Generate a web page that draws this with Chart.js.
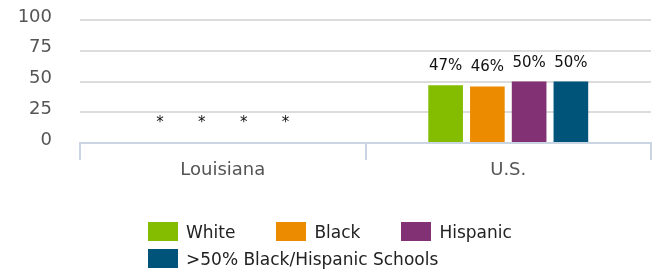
<!DOCTYPE html>
<html>
<head>
<meta charset="utf-8">
<script src="https://cdn.jsdelivr.net/npm/chart.js@4/dist/chart.umd.min.js"></script>
<style>
  html, body { margin: 0; padding: 0; background: #fff; }
  #wrap { position: relative; width: 657px; height: 269px; }
  #legend { position: absolute; left: 148px; top: 222px; width: 380px; display: flex; flex-wrap: wrap; column-gap: 41px; row-gap: 8px; font-family: "DejaVu Sans", sans-serif; font-size: 17px; color: #222; }
  .item { display: flex; align-items: center; height: 19px; white-space: nowrap; }
  .box { width: 30px; height: 19px; margin-right: 8px; }
</style>
</head>
<body>
<div id="wrap">
  <canvas id="c" width="657" height="269"></canvas>
  <div id="legend"></div>
</div>
<script>
const categories = ["Louisiana", "U.S."];
const seriesNames = ["White", "Black", "Hispanic", ">50% Black/Hispanic Schools"];
const seriesColors = ["#84bd00", "#ed8b00", "#823174", "#00547a"];
const white = [null, 47];
const black = [null, 46];
const hispanic = [null, 50];
const majorityBH = [null, 50];
const yTicks = [0, 25, 50, 75, 100];

const seriesValues = [white, black, hispanic, majorityBH];

const valueLabels = {
  id: 'valueLabels',
  afterDatasetsDraw(chart) {
    const ctx = chart.ctx;
    const yScale = chart.scales.y;
    ctx.save();
    ctx.font = '15px "DejaVu Sans", sans-serif';
    ctx.fillStyle = '#111';
    ctx.textAlign = 'center';
    ctx.textBaseline = 'alphabetic';
    chart.data.datasets.forEach((ds, di) => {
      const meta = chart.getDatasetMeta(di);
      meta.data.forEach((el, i) => {
        const v = ds.data[i];
        const x = el.x;
        const y = (v === null || v === undefined) ? yScale.getPixelForValue(0) : yScale.getPixelForValue(v);
        const txt = (v === null || v === undefined) ? '*' : Math.round(v) + '%';
        const off = (v === null || v === undefined) ? 16 : 15;
        ctx.fillText(txt, x, y - off);
      });
    });
    ctx.restore();
  }
};

const chart = new Chart(document.getElementById('c'), {
  type: 'bar',
  data: {
    labels: categories,
    datasets: seriesNames.map((n, i) => ({
      label: n,
      data: seriesValues[i],
      backgroundColor: seriesColors[i],
      borderWidth: 0,
      categoryPercentage: 0.585,
      barPercentage: 0.83
    }))
  },
  options: {
    responsive: false,
    animation: false,
    layout: { padding: { left: 0, right: 6, top: 20, bottom: 0 } },
    plugins: {
      legend: { display: false },
      tooltip: { enabled: false }
    },
    scales: {
      x: {
        offset: true,
        grid: { display: true, drawOnChartArea: false, drawTicks: true, tickLength: 17, color: '#c9d5e2', lineWidth: 2, offset: true },
        border: { display: true, color: '#c9d5e2', width: 2 },
        ticks: { color: '#555', font: { family: 'DejaVu Sans', size: 18 }, padding: 0 },
        afterFit(s) { s.height = 126; }
      },
      y: {
        min: 0, max: 100,
        afterBuildTicks(s) { s.ticks = yTicks.map(v => ({ value: v })); },
        grid: { color: '#dcdcdc', lineWidth: 2, drawTicks: false },
        border: { display: false },
        ticks: { color: '#555', font: { family: 'DejaVu Sans', size: 18 }, padding: 28, labelOffset: -3 },
        afterFit(s) { s.width = 80; s.paddingTop = 0; s.paddingBottom = 0; }
      }
    }
  },
  plugins: [valueLabels]
});

const legendEl = document.getElementById('legend');
seriesNames.forEach((n, i) => {
  const item = document.createElement('div');
  item.className = 'item';
  const box = document.createElement('span');
  box.className = 'box';
  box.style.background = seriesColors[i];
  const t = document.createElement('span');
  t.textContent = n;
  item.appendChild(box);
  item.appendChild(t);
  legendEl.appendChild(item);
});
</script>
</body>
</html>
